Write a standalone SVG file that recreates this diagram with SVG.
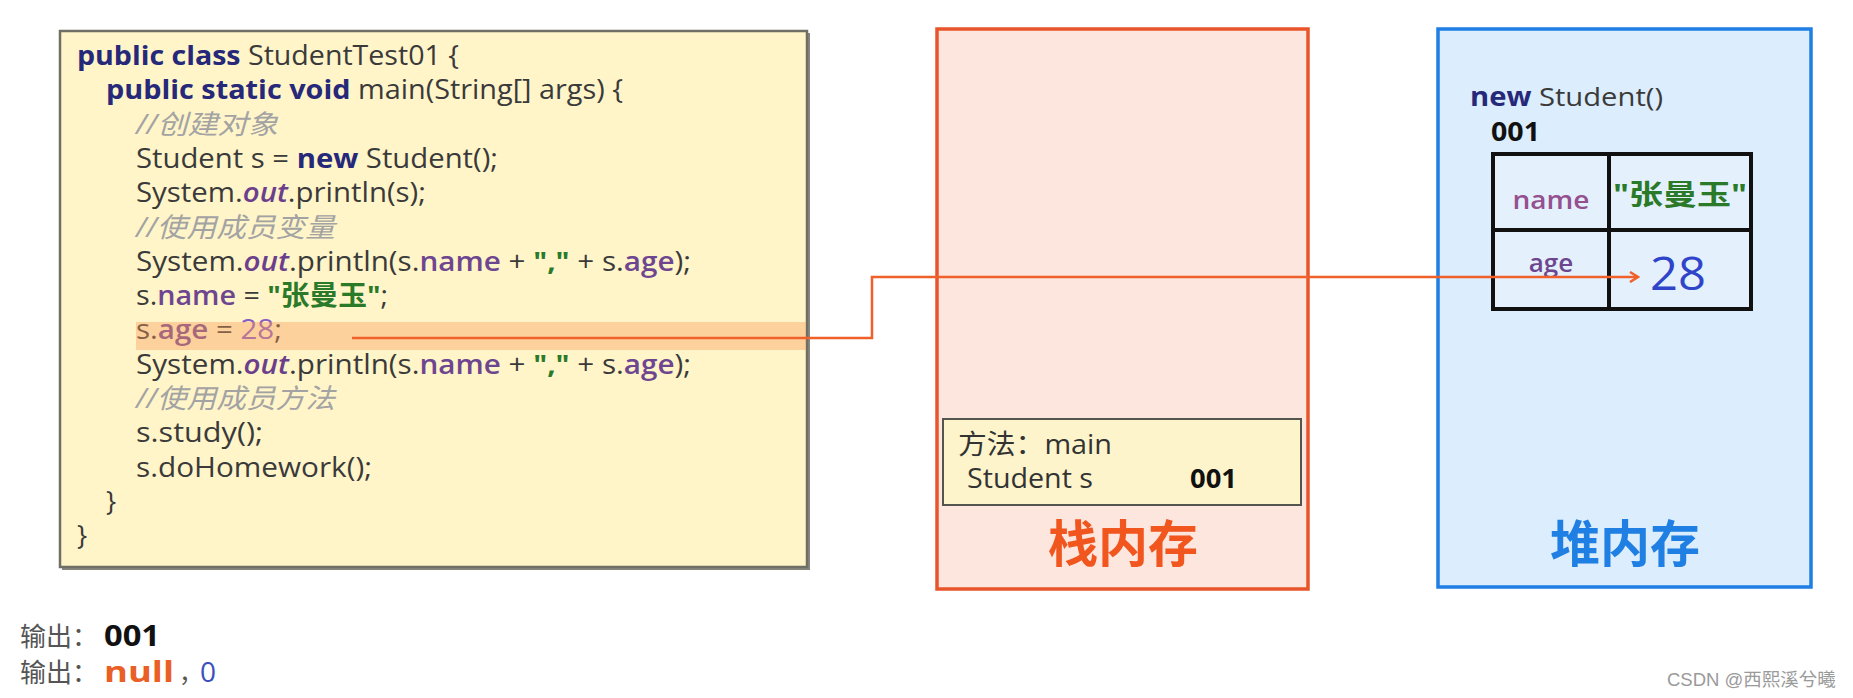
<svg xmlns="http://www.w3.org/2000/svg" width="1853" height="698" viewBox="0 0 1853 698">
<style>
.code{font-family:"Open Sans","Noto Sans CJK SC",sans-serif;font-size:27px;fill:#3a3a3a}
.kw{font-weight:bold;fill:#26287a}
.cm{font-style:italic;fill:#a3a3a3}
.out{font-style:italic;font-weight:600;fill:#6b3f8c}
.fd{font-weight:600;fill:#6e4690}
.st{font-weight:bold;fill:#2a7a2a}
.nm{fill:#8a5cc0}
.lbl{font-family:"Open Sans","Noto Sans CJK SC",sans-serif}
.big{font-family:"Noto Sans CJK SC",sans-serif;font-weight:bold;font-size:50px;text-anchor:middle}
</style>
<defs>
<marker id="ah" viewBox="0 0 12 12" refX="10" refY="6" markerWidth="12" markerHeight="12" markerUnits="userSpaceOnUse" orient="auto">
<path d="M2,1 L10,6 L2,11" fill="none" stroke="#f0602a" stroke-width="2.5"/>
</marker>
</defs>
<rect width="1853" height="698" fill="#ffffff"/>

<g id="code-box">
<rect x="62" y="33" width="748" height="537" fill="#86867c"/>
<rect x="60" y="31" width="747" height="536" fill="#fff5c9" stroke="#6f6f66" stroke-width="2.5"/>
<text class="code" x="77" y="65" textLength="382" lengthAdjust="spacingAndGlyphs"><tspan class="kw">public class</tspan> StudentTest01 {</text>
<text class="code" x="106" y="99.3" textLength="517" lengthAdjust="spacingAndGlyphs"><tspan class="kw">public static void</tspan> main(String[] args) {</text>
<text class="code cm" x="136" y="133.6" textLength="142" lengthAdjust="spacingAndGlyphs">//创建对象</text>
<text class="code" x="136" y="167.9" textLength="362" lengthAdjust="spacingAndGlyphs">Student s = <tspan class="kw">new</tspan> Student();</text>
<text class="code" x="136" y="202.2" textLength="290" lengthAdjust="spacingAndGlyphs">System.<tspan class="out">out</tspan>.println(s);</text>
<text class="code cm" x="136" y="236.5" textLength="199" lengthAdjust="spacingAndGlyphs">//使用成员变量</text>
<text class="code" x="136" y="270.8" textLength="555" lengthAdjust="spacingAndGlyphs">System.<tspan class="out">out</tspan>.println(s.<tspan class="fd">name</tspan> + <tspan class="st">","</tspan> + s.<tspan class="fd">age</tspan>);</text>
<text class="code" x="136" y="305.1" textLength="252" lengthAdjust="spacingAndGlyphs">s.<tspan class="fd">name</tspan> = <tspan class="st">"张曼玉"</tspan>;</text>
<text class="code" x="136" y="339.4" textLength="146" lengthAdjust="spacingAndGlyphs">s.<tspan class="fd">age</tspan> = <tspan class="nm">28</tspan>;</text>
<text class="code" x="136" y="373.7" textLength="555" lengthAdjust="spacingAndGlyphs">System.<tspan class="out">out</tspan>.println(s.<tspan class="fd">name</tspan> + <tspan class="st">","</tspan> + s.<tspan class="fd">age</tspan>);</text>
<text class="code cm" x="136" y="408" textLength="199" lengthAdjust="spacingAndGlyphs">//使用成员方法</text>
<text class="code" x="136" y="442.3" textLength="127" lengthAdjust="spacingAndGlyphs">s.study();</text>
<text class="code" x="136" y="476.6" textLength="236" lengthAdjust="spacingAndGlyphs">s.doHomework();</text>
<text class="code" x="106" y="510.9">}</text>
<text class="code" x="77" y="545.2">}</text>
<rect x="136" y="322" width="670" height="28" fill="#fb9a5a" opacity="0.4"/>
</g>

<g id="stack-memory">
<rect x="937" y="29" width="371" height="560" fill="#fde6dd" stroke="#e8552a" stroke-width="3.5"/>
<rect x="943" y="419" width="358" height="86" fill="#fef4cc" stroke="#55554f" stroke-width="2"/>
<text class="lbl" x="958" y="454" font-size="27" fill="#333" textLength="154" lengthAdjust="spacingAndGlyphs">方法：main</text>
<text class="lbl" x="967" y="488" font-size="27" fill="#333" textLength="126" lengthAdjust="spacingAndGlyphs">Student s</text>
<text class="lbl" x="1190" y="488" font-size="27" font-weight="bold" fill="#111" textLength="47" lengthAdjust="spacingAndGlyphs">001</text>
<text class="big" x="1123" y="562" fill="#f0561e">栈内存</text>
</g>

<g id="heap-memory">
<rect x="1438" y="29" width="373" height="558" fill="#dcedfd" stroke="#1f7fe2" stroke-width="3.5"/>
<text class="lbl" x="1470" y="106" font-size="26" fill="#3a3a3a" textLength="193" lengthAdjust="spacingAndGlyphs"><tspan font-weight="bold" fill="#26287a">new</tspan> Student()</text>
<text class="lbl" x="1491" y="141" font-size="27" font-weight="bold" fill="#111" textLength="49" lengthAdjust="spacingAndGlyphs">001</text>
<rect x="1493" y="154" width="258" height="155" fill="#e4f1fd" stroke="#111" stroke-width="4"/>
<line x1="1609" y1="154" x2="1609" y2="309" stroke="#111" stroke-width="4"/>
<line x1="1493" y1="230" x2="1751" y2="230" stroke="#111" stroke-width="4"/>
<text class="lbl" x="1551" y="209" font-size="26" font-weight="600" fill="#94508f" text-anchor="middle" textLength="77" lengthAdjust="spacingAndGlyphs">name</text>
<text class="lbl" x="1680" y="205" font-size="28" font-weight="bold" fill="#2a7a2a" text-anchor="middle" textLength="134" lengthAdjust="spacingAndGlyphs">"张曼玉"</text>
<text class="lbl" x="1551" y="272" font-size="26" font-weight="600" fill="#6e4690" text-anchor="middle">age</text>
<text class="lbl" x="1678" y="290" font-size="46" fill="#2f44c8" text-anchor="middle" textLength="56" lengthAdjust="spacingAndGlyphs">28</text>
<text class="big" x="1625" y="562" fill="#1f7fe2">堆内存</text>
</g>

<g id="connectors">
<path d="M352,338 H872 V277 H1638" fill="none" stroke="#f0602a" stroke-width="2.5" marker-end="url(#ah)"/>
</g>

<g id="output-notes">
<text class="lbl" x="20" y="646" font-size="26" fill="#555">输出：</text>
<text class="lbl" x="104" y="646" font-size="28" font-weight="bold" fill="#111" textLength="56" lengthAdjust="spacingAndGlyphs">001</text>
<text class="lbl" x="20" y="682" font-size="26" fill="#555">输出：</text>
<text class="lbl" x="104" y="682" font-size="28" font-weight="bold" fill="#ea5f26" textLength="70" lengthAdjust="spacingAndGlyphs">null</text>
<text class="lbl" x="179" y="682" font-size="24" fill="#555">，</text>
<text class="lbl" x="200" y="682" font-size="28" fill="#3b50c0">0</text>
</g>

<text x="1667" y="686" font-family="Liberation Sans,Noto Sans CJK SC,sans-serif" font-size="18.5" fill="#9a9a9a">CSDN @西熙溪兮曦</text>
</svg>
